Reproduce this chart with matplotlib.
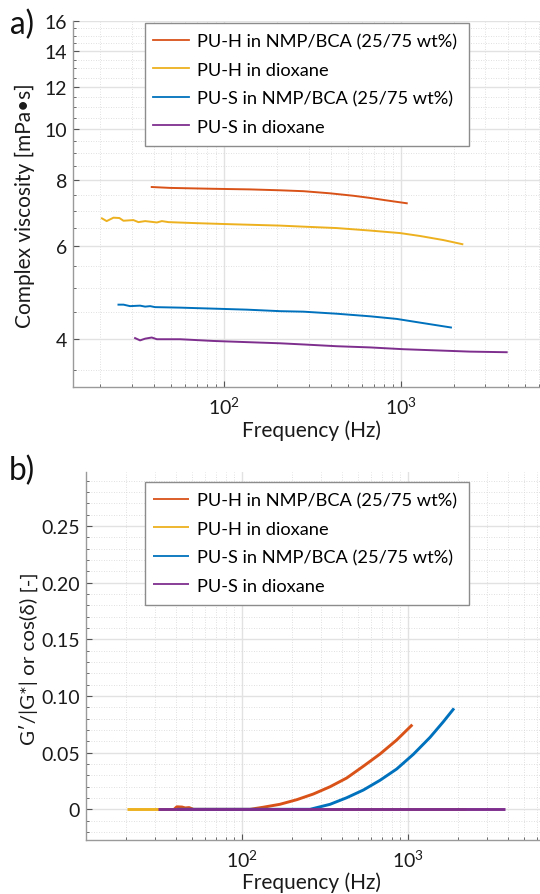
import matplotlib
matplotlib.use("Agg")
import matplotlib.pyplot as plt
from matplotlib.ticker import FixedLocator, NullFormatter, LogLocator, FuncFormatter
from matplotlib.patches import Rectangle
import numpy as np

plt.rcParams['font.family'] = ['Lato', 'DejaVu Sans']
plt.rcParams['mathtext.fontset'] = 'custom'
plt.rcParams['mathtext.rm'] = 'Lato'

# ---------------- data ----------------
labels = ["PU-H in NMP/BCA (25/75 wt%)", "PU-H in dioxane",
          "PU-S in NMP/BCA (25/75 wt%)", "PU-S in dioxane"]
colors = ["#D95319", "#EDB120", "#0072BD", "#7E2F8E"]

# panel a: complex viscosity [mPa·s] vs frequency [Hz]
ph_nmp_f = [39.0, 49.5, 87.0, 140, 207, 281, 397, 538, 668, 830, 1077]
ph_nmp_v = [7.76, 7.73, 7.70, 7.68, 7.65, 7.62, 7.55, 7.47, 7.40, 7.32, 7.23]

ph_dx_f = [20.4, 21.7, 23.7, 25.6, 27.0, 30.7, 32.8, 35.8, 41.7, 44.5, 48.5,
           70.1, 108, 207, 281, 433, 668, 987, 1280, 1733, 2220]
ph_dx_v = [6.77, 6.69, 6.79, 6.78, 6.70, 6.72, 6.66, 6.69, 6.65, 6.69, 6.66,
           6.63, 6.60, 6.56, 6.53, 6.49, 6.42, 6.35, 6.27, 6.16, 6.05]

ps_nmp_f = [25.3, 27.0, 29.4, 33.5, 35.8, 38.2, 40.7, 56.4, 87.0, 134, 207,
            281, 433, 668, 945, 1280, 1914]
ps_nmp_v = [4.65, 4.65, 4.62, 4.63, 4.61, 4.62, 4.60, 4.59, 4.57, 4.55, 4.52,
            4.51, 4.47, 4.42, 4.37, 4.30, 4.21]

ps_dx_f = [31.4, 33.5, 35.8, 39.0, 41.7, 56.4, 87.0, 134, 207, 281, 433, 668,
           1030, 1590, 2455, 3953]
ps_dx_v = [4.02, 3.98, 4.01, 4.03, 4.00, 4.00, 3.97, 3.95, 3.93, 3.91, 3.88,
           3.86, 3.83, 3.81, 3.79, 3.78]

# panel b: G'/|G*| vs frequency
ph_nmp_b_f = [39.0, 40.5, 43.5, 45.5, 48.0, 51.0, 112, 134, 169, 214, 269,
              339, 427, 538, 678, 855, 1062]
ph_nmp_b_v = [0.0, 0.0022, 0.0020, 0.0012, 0.0015, 0.0, 0.0, 0.0018, 0.0044,
              0.0085, 0.0135, 0.0199, 0.0276, 0.0380, 0.0488, 0.0612, 0.0747]

ph_dx_b_f = [20.4, 2220]
ph_dx_b_v = [0.0, 0.0]

ps_nmp_b_f = [40.7, 257, 339, 427, 538, 678, 855, 1076, 1357, 1632, 1893]
ps_nmp_b_v = [0.0, 0.0, 0.0044, 0.0102, 0.0170, 0.0256, 0.0356, 0.0485,
              0.0635, 0.0773, 0.0891]

ps_dx_b_f = [31.4, 3860]
ps_dx_b_v = [0.0, 0.0]

yticks_a = [4, 6, 8, 10, 12, 14, 16]
yticks_b = [0, 0.05, 0.10, 0.15, 0.20, 0.25]

# ---------------- figure ----------------
W, H = 540, 895
fig = plt.figure(figsize=(W / 100, H / 100), dpi=100)
renderer = fig.canvas.get_renderer()

spine_c = "#9a9a9a"
txt_c = "#1a1a1a"


def fit_size(s, target, dim="w", **kw):
    """font size (pt) so that string s spans target pixels."""
    t = fig.text(0, 0, s, fontsize=20, **kw)
    ext = t.get_window_extent(renderer)
    v = ext.width if dim == "w" else ext.height
    t.remove()
    return 20 * target / v


TICK_FS = fit_size("0.25", 38.5)
LEG_FS = fit_size(labels[0], 261)
XL_FS = fit_size("Frequency (Hz)", 139)
YLA_FS = fit_size("Complex viscosity [mPa\u2022s]", 245)
YLB_FS = fit_size("G\u2032/|G*| or cos(\u03b4) [-]", 172)
PAN_FS = fit_size("a)", 24)


def px_axes(l, t, r, b):
    return fig.add_axes([l / W, 1 - b / H, (r - l) / W, (b - t) / H])


def style(ax):
    for s in ["top", "right"]:
        ax.spines[s].set_visible(False)
    for s in ["left", "bottom"]:
        ax.spines[s].set_color(spine_c)
        ax.spines[s].set_linewidth(1.0)
    ax.tick_params(which="both", direction="in", colors="#555555",
                   labelcolor=txt_c, labelsize=TICK_FS)
    ax.tick_params(which="major", length=4, width=0.8)
    ax.tick_params(which="minor", length=2.5, width=0.6)
    ax.grid(True, which="major", color="#e2e2e2", lw=1.0, ls="-")
    ax.grid(True, which="minor", color="#d6d6d6", lw=0.6, ls=(0, (1, 2)))
    ax.set_axisbelow(True)


def log_fmt(v, pos):
    e = int(round(np.log10(v)))
    return r"$\mathdefault{10^{%d}}$" % e


# ---- panel a ----
ax1 = px_axes(73, 21.8, 540, 388)
series_a = [(ph_nmp_f, ph_nmp_v), (ph_dx_f, ph_dx_v),
            (ps_nmp_f, ps_nmp_v), (ps_dx_f, ps_dx_v)]
for (f, v), c, lab in zip(series_a, colors, labels):
    ax1.plot(f, v, color=c, lw=1.4, label=lab)
ax1.set_xscale("log")
ax1.set_yscale("log")
ax1.set_xlim(14.0, 6098)
ax1.set_ylim(3.249, 16.0)
ax1.yaxis.set_major_locator(FixedLocator(yticks_a))
ax1.yaxis.set_major_formatter(FuncFormatter(lambda v, p: "%d" % v))
ax1.yaxis.set_minor_locator(FixedLocator([x for x in np.arange(3.5, 16.0, 0.5)
                                          if x not in yticks_a]))
ax1.yaxis.set_minor_formatter(NullFormatter())
ax1.xaxis.set_major_locator(FixedLocator([100, 1000]))
ax1.xaxis.set_major_formatter(FuncFormatter(log_fmt))
ax1.xaxis.set_minor_locator(LogLocator(base=10, subs=np.arange(2, 10)))
ax1.xaxis.set_minor_formatter(NullFormatter())
style(ax1)
ax1.tick_params(axis="y", pad=4.3)
ax1.tick_params(axis="x", pad=6)

# ---- panel b ----
ax2 = px_axes(86, 472.7, 540, 841)
series_b = [(ph_nmp_b_f, ph_nmp_b_v), (ph_dx_b_f, ph_dx_b_v),
            (ps_nmp_b_f, ps_nmp_b_v), (ps_dx_b_f, ps_dx_b_v)]
for (f, v), c, lab in zip(series_b, colors, labels):
    ax2.plot(f, v, color=c, lw=2.1, label=lab, solid_capstyle="butt")
ax2.set_xscale("log")
ax2.set_xlim(11.49, 6237)
ax2.set_ylim(-0.0271, 0.298)
ax2.yaxis.set_major_locator(FixedLocator(yticks_b))
ax2.yaxis.set_major_formatter(FuncFormatter(lambda v, p: "0" if v == 0 else "%.2f" % v))
ax2.yaxis.set_minor_locator(FixedLocator([x for x in np.arange(-0.02, 0.30, 0.01)
                                          if min(abs(x - t) for t in yticks_b) > 1e-6]))
ax2.yaxis.set_minor_formatter(NullFormatter())
ax2.xaxis.set_major_locator(FixedLocator([100, 1000]))
ax2.xaxis.set_major_formatter(FuncFormatter(log_fmt))
ax2.xaxis.set_minor_locator(LogLocator(base=10, subs=np.arange(2, 10)))
ax2.xaxis.set_minor_formatter(NullFormatter())
style(ax2)
ax2.tick_params(axis="y", pad=4.3)
ax2.tick_params(axis="x", pad=6)

# ---- legends (frame drawn as a rectangle in pixel coords) ----
leg_px = 153.0        # left end of handle line
row_pitch = 28.5
fs_px = LEG_FS * 100 / 72.0
for ax, top, bottom, row0 in [(ax1, 24.3, 146.7, 42.3), (ax2, 483.3, 606.0, 501.3)]:
    ax.add_patch(Rectangle((145 / W, 1 - bottom / H), (469 - 145) / W,
                           (bottom - top) / H, transform=fig.transFigure,
                           facecolor="white", edgecolor="#8c8c8c",
                           lw=1.0, zorder=5, clip_on=False))
    ls = 0.5
    y0 = row0 - 9
    for it in range(3):
        leg = ax.legend(loc="upper left", bbox_to_anchor=(leg_px / W, 1 - y0 / H),
                        bbox_transform=fig.transFigure, fontsize=LEG_FS,
                        frameon=False, borderpad=0, handlelength=36 / fs_px,
                        handletextpad=8 / fs_px, labelspacing=ls, borderaxespad=0)
        leg.set_zorder(6)
        for ln in leg.get_lines():
            ln.set_linewidth(1.3)
        fig.canvas.draw()
        exts = [t.get_window_extent(renderer) for t in leg.get_texts()]
        cy = [H - (e.y0 + e.y1) / 2 for e in exts]
        pitch = (cy[-1] - cy[0]) / 3
        ls += (row_pitch - pitch) / fs_px
        y0 += row0 - cy[0]

# ---- labels ----
fig.text(25 / W, 1 - 205.5 / H, "Complex viscosity [mPa\u2022s]", rotation=90,
         ha="center", va="center", fontsize=YLA_FS, color=txt_c)
fig.text(28 / W, 1 - 659 / H, "G\u2032/|G*| or cos(\u03b4) [-]", rotation=90,
         ha="center", va="center", fontsize=YLB_FS, color=txt_c)
fig.text(312 / W, 1 - 431 / H, "Frequency (Hz)", ha="center", va="center",
         fontsize=XL_FS, color=txt_c)
fig.text(312 / W, 1 - 883 / H, "Frequency (Hz)", ha="center", va="center",
         fontsize=XL_FS, color=txt_c)
fig.text(22 / W, 1 - 25 / H, "a)", ha="center", va="center", fontsize=PAN_FS,
         color="#111111")
fig.text(21.5 / W, 1 - 471 / H, "b)", ha="center", va="center", fontsize=PAN_FS,
         color="#111111")

fig.savefig("out.png", dpi=100)
